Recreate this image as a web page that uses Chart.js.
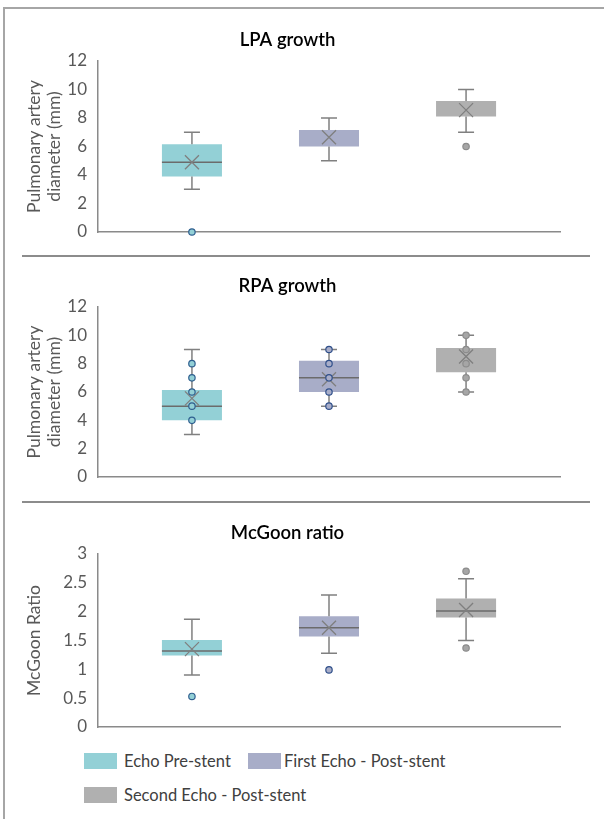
<!DOCTYPE html>
<html>
<head>
<meta charset="utf-8">
<script src="https://cdn.jsdelivr.net/npm/chart.js@4.4.1/dist/chart.umd.min.js"></script>
<style>
    body { margin: 0; background: #fff; }
    #wrap { position: relative; width: 604px; height: 819px; overflow: hidden; font-family: Lato, "Open Sans", sans-serif; }
    .frame-top { position: absolute; left: 3px; top: 7px; width: 601px; height: 2px; background: #a6a6a6; }
    .frame-left { position: absolute; left: 3px; top: 7px; width: 2px; height: 812px; background: #a6a6a6; }
    .sep { position: absolute; left: 22px; width: 568px; height: 2px; background: #8c8c8c; }
    .panel { position: absolute; left: 0; }
    .legend-sw { position: absolute; width: 33px; height: 16px; }
    .legend-txt { position: absolute; height: 16px; line-height: 16px; font-size: 16.5px; color: #404040; white-space: nowrap; }
</style>
</head>
<body>
<div id="wrap">
    <div class="frame-top"></div>
    <div class="frame-left"></div>
    <div class="panel" style="top:10px"><canvas id="lpa-chart" width="604" height="244"></canvas></div>
    <div class="sep" style="top:255px"></div>
    <div class="panel" style="top:256px"><canvas id="rpa-chart" width="604" height="243"></canvas></div>
    <div class="sep" style="top:501px"></div>
    <div class="panel" style="top:503px"><canvas id="mcgoon-chart" width="604" height="246"></canvas></div>
    <div id="legend"></div>
</div>
<script>
// 系列名称与颜色
const seriesNames = ['Echo Pre-stent', 'First Echo - Post-stent', 'Second Echo - Post-stent'];
const boxColors = ['#93d0d6', '#a8adc8', '#b0b0b0'];
const pointFill = ['#93d0d6', '#a8adc8', '#a6a6a6'];
const pointStroke = ['#2f5f8f', '#2f4f8a', '#8c8c8c'];

// LPA growth (mm)
const lpaQ1 = [3.9, 6.0, 8.1];
const lpaQ3 = [6.15, 7.15, 9.2];
const lpaMedian = [4.9, null, null];
const lpaMean = [4.9, 6.65, 8.55];
const lpaMin = [3, 5, 7];
const lpaMax = [7, 8, 10];
const lpaPoints = [[0], [], [6]];

// RPA growth (mm)
const rpaQ1 = [4.0, 6.0, 7.4];
const rpaQ3 = [6.15, 8.2, 9.1];
const rpaMedian = [5.0, 7.0, null];
const rpaMean = [5.55, 6.9, 8.5];
const rpaMin = [3, 5, 6];
const rpaMax = [9, 9, 10];
const rpaPoints = [[8, 7, 6, 5, 4], [9, 8, 7, 6, 5], [10, 9, 8, 7, 6]];

// McGoon ratio
const mcgQ1 = [1.24, 1.57, 1.90];
const mcgQ3 = [1.51, 1.92, 2.23];
const mcgMedian = [1.32, 1.72, 2.01];
const mcgMean = [1.35, 1.72, 2.03];
const mcgMin = [0.9, 1.28, 1.5];
const mcgMax = [1.87, 2.29, 2.57];
const mcgPoints = [[0.53], [0.99], [2.7, 1.37]];

// 刻度
const diameterTicks = [0, 2, 4, 6, 8, 10, 12];
const ratioTicks = [0, 0.5, 1, 1.5, 2, 2.5, 3];

// 绘制须线、中位数、均值和数据点
const boxParts = {
    id: 'boxParts',
    afterDatasetsDraw(chart) {
        const ctx = chart.ctx;
        const yScale = chart.scales.y;
        const py = v => yScale.getPixelForValue(v);
        chart.data.datasets.forEach((ds, i) => {
            const bar = chart.getDatasetMeta(i).data[0];
            const x = bar.x;
            const half = bar.width / 2;
            const s = ds.stats;
            ctx.save();
            ctx.lineCap = 'butt';

            // whiskers + caps
            ctx.strokeStyle = '#808080';
            ctx.lineWidth = 1.5;
            ctx.beginPath();
            ctx.moveTo(x, py(s.max)); ctx.lineTo(x, py(s.q3));
            ctx.moveTo(x, py(s.q1)); ctx.lineTo(x, py(s.min));
            ctx.moveTo(x - 8, py(s.max)); ctx.lineTo(x + 8, py(s.max));
            ctx.moveTo(x - 8, py(s.min)); ctx.lineTo(x + 8, py(s.min));
            ctx.stroke();

            // median
            if (s.median !== null) {
                ctx.strokeStyle = '#6b6b6b';
                ctx.beginPath();
                ctx.moveTo(x - half, py(s.median));
                ctx.lineTo(x + half, py(s.median));
                ctx.stroke();
            }

            // mean (X)
            const my = py(s.mean);
            ctx.strokeStyle = '#7f7f7f';
            ctx.lineWidth = 1.3;
            ctx.beginPath();
            ctx.moveTo(x - 7, my - 7); ctx.lineTo(x + 7, my + 7);
            ctx.moveTo(x + 7, my - 7); ctx.lineTo(x - 7, my + 7);
            ctx.stroke();

            // points / outliers
            ctx.fillStyle = pointFill[i];
            ctx.strokeStyle = pointStroke[i];
            ctx.lineWidth = 1.2;
            s.points.forEach(v => {
                ctx.beginPath();
                ctx.arc(x, py(v), 3.2, 0, Math.PI * 2);
                ctx.fill();
                ctx.stroke();
            });
            ctx.restore();
        });
    }
};

function makeBoxChart(canvasId, title, yTitle, ticks, q1, q3, median, mean, min, max, points) {
    const datasets = seriesNames.map((name, i) => ({
        label: name,
        data: [[q1[i], q3[i]]],
        backgroundColor: boxColors[i],
        borderWidth: 0,
        categoryPercentage: 0.89,
        barPercentage: 0.438,
        stats: { q1: q1[i], q3: q3[i], median: median[i], mean: mean[i], min: min[i], max: max[i], points: points[i] }
    }));

    return new Chart(document.getElementById(canvasId), {
        type: 'bar',
        data: { labels: [''], datasets: datasets },
        options: {
            responsive: false,
            animation: false,
            devicePixelRatio: 1,
            layout: { padding: { left: 15, right: 44, top: 0, bottom: 0 } },
            plugins: {
                legend: { display: false },
                tooltip: { enabled: false },
                title: {
                    display: true,
                    text: title,
                    color: '#000',
                    font: { family: 'Lato', size: 18.5, weight: '600', lineHeight: 1.2 },
                    padding: { top: 19, bottom: 9.8 }
                }
            },
            scales: {
                x: {
                    grid: { display: false, drawTicks: false },
                    ticks: { display: false },
                    border: { display: true, color: '#8a8a8a', width: 1.5 },
                    afterFit: scale => { scale.height = 22; }
                },
                y: {
                    min: ticks[0],
                    max: ticks[ticks.length - 1],
                    afterBuildTicks: scale => { scale.ticks = ticks.map(v => ({ value: v })); },
                    grid: { display: false, drawTicks: false },
                    border: { display: true, color: '#8a8a8a', width: 1.5 },
                    ticks: {
                        color: '#595959',
                        padding: 11,
                        font: { family: 'Lato', size: 17, weight: 'normal' },
                        callback: v => String(v)
                    },
                    title: {
                        display: true,
                        text: yTitle,
                        color: '#595959',
                        font: { family: 'Lato', size: 17.5, weight: 'normal', lineHeight: 1.15 },
                        padding: { top: 9, bottom: 0 }
                    },
                    afterFit: scale => { scale.width = 83; }
                }
            }
        },
        plugins: [boxParts]
    });
}

makeBoxChart('lpa-chart', 'LPA growth', ['Pulmonary artery', 'diameter (mm)'], diameterTicks,
    lpaQ1, lpaQ3, lpaMedian, lpaMean, lpaMin, lpaMax, lpaPoints);
makeBoxChart('rpa-chart', 'RPA growth', ['Pulmonary artery', 'diameter (mm)'], diameterTicks,
    rpaQ1, rpaQ3, rpaMedian, rpaMean, rpaMin, rpaMax, rpaPoints);
makeBoxChart('mcgoon-chart', 'McGoon ratio', 'McGoon Ratio', ratioTicks,
    mcgQ1, mcgQ3, mcgMedian, mcgMean, mcgMin, mcgMax, mcgPoints);

// 图例 (三张图共用): [色块 x, 文字 x, y]
const legendSpots = [[84, 124, 753], [248, 284, 753], [84, 124, 787]];
const legendEl = document.getElementById('legend');
seriesNames.forEach((name, i) => {
    const sw = document.createElement('div');
    sw.className = 'legend-sw';
    sw.style.left = legendSpots[i][0] + 'px';
    sw.style.top = legendSpots[i][2] + 'px';
    sw.style.background = boxColors[i];
    const txt = document.createElement('div');
    txt.className = 'legend-txt';
    txt.style.left = legendSpots[i][1] + 'px';
    txt.style.top = legendSpots[i][2] + 'px';
    txt.textContent = name;
    legendEl.appendChild(sw);
    legendEl.appendChild(txt);
});
</script>
</body>
</html>
